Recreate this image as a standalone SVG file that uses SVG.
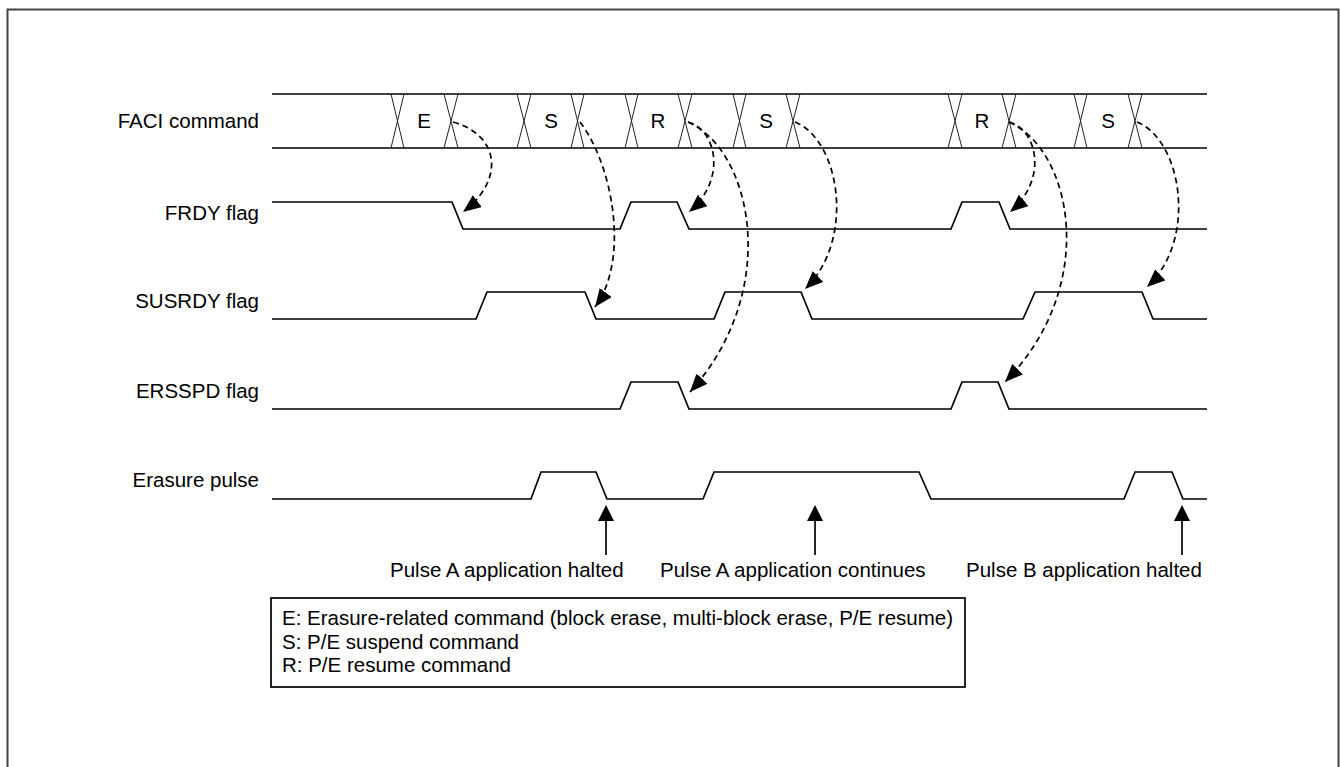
<svg xmlns="http://www.w3.org/2000/svg" width="1341" height="767" viewBox="0 0 1341 767">
<style>
text{font-family:"Liberation Sans",Arial,sans-serif;font-size:20.5px;fill:#000}
.lbl{text-anchor:end}
.mid{text-anchor:middle}
.wave{fill:none;stroke:#000;stroke-width:1.7;stroke-linejoin:miter}
.x{fill:none;stroke:#222;stroke-width:1}
.dash{fill:none;stroke:#000;stroke-width:1.7;stroke-dasharray:6 4;marker-end:url(#ah)}
.up{stroke:#000;stroke-width:1.7}
</style>
<defs>
<marker id="ah" markerUnits="userSpaceOnUse" markerWidth="19" markerHeight="15" refX="18" refY="7.5" orient="auto" viewBox="0 0 19 15">
<path d="M0,0 L18,7.5 L0,15 z" fill="#000"/>
</marker>
</defs>
<rect x="7.5" y="9.5" width="1331" height="800" fill="#fff" stroke="#444" stroke-width="2"/>

<g id="faci">
<text class="lbl" x="259" y="128">FACI command</text>
<path class="wave" d="M272,94 H1207 M272,148 H1207"/>
<path class="x" d="M391,94 L404,148 M404,94 L391,148 M444,94 L458,148 M458,94 L444,148 M517,94 L531,148 M531,94 L517,148 M571,94 L584,148 M584,94 L571,148 M625,94 L638,148 M638,94 L625,148 M678,94 L692,148 M692,94 L678,148 M733,94 L746,148 M746,94 L733,148 M786,94 L800,148 M800,94 L786,148 M948,94 L962,148 M962,94 L948,148 M1002,94 L1016,148 M1016,94 L1002,148 M1074,94 L1087,148 M1087,94 L1074,148 M1128,94 L1142,148 M1142,94 L1128,148"/>
<text class="mid" x="424" y="128">E</text>
<text class="mid" x="551" y="128">S</text>
<text class="mid" x="658" y="128">R</text>
<text class="mid" x="766" y="128">S</text>
<text class="mid" x="982" y="128">R</text>
<text class="mid" x="1108" y="128">S</text>
</g>

<g id="frdy">
<text class="lbl" x="259" y="220">FRDY flag</text>
<path class="wave" d="M272,202 H452 L463,229 H620 L631,202 H677 L689,229 H951 L962,202 H999 L1010,229 H1207"/>
</g>

<g id="susrdy">
<text class="lbl" x="259" y="308">SUSRDY flag</text>
<path class="wave" d="M272,319 H476 L487,292 H585 L596,319 H714 L725,292 H801 L812,319 H1023 L1035,292 H1142 L1153,319 H1207"/>
</g>

<g id="ersspd">
<text class="lbl" x="259" y="398">ERSSPD flag</text>
<path class="wave" d="M272,409 H620 L631,382 H678 L689,409 H951 L962,382 H998 L1009,409 H1207"/>
</g>

<g id="erasure">
<text class="lbl" x="259" y="487">Erasure pulse</text>
<path class="wave" d="M272,499 H531 L541,472 H596 L607,499 H703 L714,472 H919 L931,499 H1124 L1135,472 H1172 L1183,499 H1207"/>
</g>

<g id="connectors">
<path class="dash" d="M453,122 C500,135 505,180 463,212"/>
<path class="dash" d="M580,122 C613,165 630,260 595,307"/>
<path class="dash" d="M688,122 C717,130 727,180 689,212"/>
<path class="dash" d="M688,122 C752,150 782,290 690,392"/>
<path class="dash" d="M795,122 C840,140 856,240 805,289"/>
<path class="dash" d="M1009,122 C1038,130 1048,180 1010,212"/>
<path class="dash" d="M1009,122 C1072,150 1100,285 1005,382"/>
<path class="dash" d="M1137,122 C1182,140 1198,240 1147,287"/>
<g id="up-arrows">
<line class="up" x1="606" y1="519" x2="606" y2="555"/>
<path d="M606,505 L598,521 L614,521 z" fill="#000"/>
<line class="up" x1="815" y1="519" x2="815" y2="555"/>
<path d="M815,505 L807,521 L823,521 z" fill="#000"/>
<line class="up" x1="1182" y1="519" x2="1182" y2="555"/>
<path d="M1182,505 L1174,521 L1190,521 z" fill="#000"/>
</g>
</g>

<g id="annotations">
<text x="390" y="577">Pulse A application halted</text>
<text x="660" y="577">Pulse A application continues</text>
<text x="966" y="577">Pulse B application halted</text>
</g>

<g id="legend">
<rect x="271" y="598" width="694" height="89" fill="#fff" stroke="#000" stroke-width="1.7"/>
<text x="282" y="625">E: Erasure-related command (block erase, multi-block erase, P/E resume)</text>
<text x="282" y="649">S: P/E suspend command</text>
<text x="282" y="672">R: P/E resume command</text>
</g>
</svg>
